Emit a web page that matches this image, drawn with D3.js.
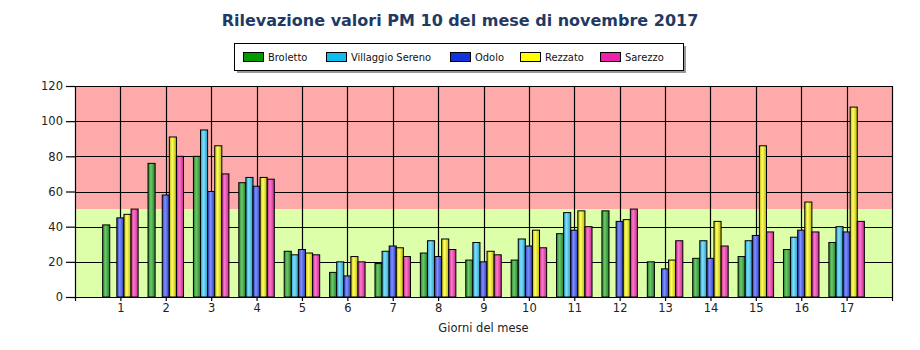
<!DOCTYPE html>
<html>
<head>
<meta charset="utf-8">
<script src="https://cdn.jsdelivr.net/npm/d3@7"></script>
<style>
  html, body { margin: 0; padding: 0; background: #fff; }
  svg { display: block; font-family: "DejaVu Sans", sans-serif; }
</style>
</head>
<body>
<svg id="chart" width="920" height="350"></svg>
<script>
// PM10 daily readings (µg/m³), November 2017
const days = d3.range(1, 18);
const stations = ["Broletto", "Villaggio Sereno", "Odolo", "Rezzato", "Sarezzo"];
const broletto        = [41, 76, 80, 65, 26, 14, 19, 25, 21, 21, 36, 49, 20, 22, 23, 27, 31];
const villaggioSereno = [null, null, 95, 68, 24, 20, 26, 32, 31, 33, 48, null, null, 32, 32, 34, 40];
const odolo           = [45, 58, 60, 63, 27, 12, 29, 23, 20, 29, 38, 43, 16, 22, 35, 38, 37];
const rezzato         = [47, 91, 86, 68, 25, 23, 28, 33, 26, 38, 49, 44, 21, 43, 86, 54, 108];
const sarezzo         = [50, 80, 70, 67, 24, 20, 23, 27, 24, 28, 40, 50, 32, 29, 37, 37, 43];
const yTicks = [0, 20, 40, 60, 80, 100, 120];
const limitValue = 50;

const series = [broletto, villaggioSereno, odolo, rezzato, sarezzo];
const swatch = ["#009900", "#11BBEE", "#1133DD", "#FFFF00", "#EE22AA"];
// cylinder shading: edge, highlight
const shade = [
  ["#2E7A2E", "#66CC66"],
  ["#2A9CC0", "#7FE0FF"],
  ["#2B3BB8", "#8090FF"],
  ["#B8B800", "#FFFF66"],
  ["#C02C8C", "#FF77CC"]
];

const svg = d3.select("#chart");
const W = 920, H = 350;
const m = { left: 75, right: 28, top: 86, bottom: 53 };
const x = d3.scaleLinear().domain([0, 18]).range([m.left, W - m.right]);
const y = d3.scaleLinear().domain([0, 120]).range([H - m.bottom, m.top]);
const barW = 7.1;
const crisp = v => Math.round(v) + 0.5;

const defs = svg.append("defs");
shade.forEach((c, i) => {
  const g = defs.append("linearGradient").attr("id", "g" + i)
    .attr("x1", "0").attr("x2", "1").attr("y1", "0").attr("y2", "0");
  g.append("stop").attr("offset", "0%").attr("stop-color", c[0]);
  g.append("stop").attr("offset", "40%").attr("stop-color", c[1]);
  g.append("stop").attr("offset", "100%").attr("stop-color", c[0]);
});

// Title
svg.append("text")
  .attr("x", W / 2).attr("y", 26)
  .attr("text-anchor", "middle")
  .attr("font-size", 16).attr("font-weight", "bold")
  .attr("fill", "#1F3A64")
  .text("Rilevazione valori PM 10 del mese di novembre 2017");

// Legend
const lg = svg.append("g");
lg.append("rect").attr("x", 237).attr("y", 46).attr("width", 449).attr("height", 27).attr("fill", "#999");
lg.append("rect").attr("x", 234.5).attr("y", 43.5).attr("width", 449).attr("height", 27)
  .attr("fill", "#fff").attr("stroke", "#000").attr("stroke-width", 1);
const legendX = [243, 326, 450, 520, 600];
stations.forEach((s, i) => {
  lg.append("rect").attr("x", legendX[i] + 0.5).attr("y", 52.5).attr("width", 20).attr("height", 9)
    .attr("fill", swatch[i]).attr("stroke", "#000");
  lg.append("text").attr("x", legendX[i] + 25).attr("y", 61)
    .attr("font-family", "'DejaVu Sans Condensed', 'DejaVu Sans', sans-serif")
    .attr("font-stretch", "condensed")
    .attr("font-size", 11).attr("fill", "#111")
    .text(s);
});

// Background bands: above and below the daily limit
svg.append("rect").attr("x", x(0)).attr("y", y(120)).attr("width", x(18) - x(0)).attr("height", y(limitValue) - y(120))
  .attr("fill", "#FFAAAA");
svg.append("rect").attr("x", x(0)).attr("y", y(limitValue)).attr("width", x(18) - x(0)).attr("height", y(0) - y(limitValue))
  .attr("fill", "#DDFFAA");

// Grid
const grid = svg.append("g").attr("stroke", "#000").attr("stroke-width", 1.2);
yTicks.forEach(t => {
  grid.append("line").attr("x1", x(0)).attr("x2", x(18)).attr("y1", crisp(y(t))).attr("y2", crisp(y(t)));
});
days.concat([18]).forEach(d => {
  grid.append("line").attr("x1", crisp(x(d))).attr("x2", crisp(x(d))).attr("y1", y(120)).attr("y2", y(0));
});

// Bars
series.forEach((vals, i) => {
  svg.append("g").selectAll("rect")
    .data(days.map((d, k) => ({ d, v: vals[k] })).filter(p => p.v != null))
    .join("rect")
    .attr("x", p => x(p.d) + (i - 2.5) * barW)
    .attr("y", p => y(p.v))
    .attr("width", barW)
    .attr("height", p => y(0) - y(p.v))
    .attr("fill", `url(#g${i})`)
    .attr("stroke", "#000").attr("stroke-width", 1);
});

// Axes
const yAxis = svg.append("g").attr("transform", `translate(${x(0)},0)`)
  .call(d3.axisLeft(y).tickValues(yTicks).tickSize(9).tickPadding(3));
yAxis.select(".domain").attr("stroke", "#000").attr("stroke-width", 1.2);
yAxis.selectAll(".tick line").attr("stroke", "#000").attr("stroke-width", 1.2);
yAxis.selectAll("text").attr("font-size", 11.5).attr("fill", "#222").attr("font-family", "DejaVu Sans");

const xAxis = svg.append("g").attr("transform", `translate(0,${y(0)})`)
  .call(d3.axisBottom(x).tickValues(days).tickSize(4).tickPadding(3).tickFormat(d3.format("d")));
xAxis.select(".domain").attr("stroke", "#000").attr("stroke-width", 1.2);
xAxis.selectAll(".tick line").attr("stroke", "#000").attr("stroke-width", 1.2);
xAxis.selectAll("text").attr("font-size", 11.5).attr("fill", "#222").attr("font-family", "DejaVu Sans");

svg.append("text")
  .attr("x", (x(0) + x(18)) / 2).attr("y", 332)
  .attr("text-anchor", "middle").attr("font-size", 11.5).attr("fill", "#222")
  .text("Giorni del mese");
</script>
</body>
</html>
